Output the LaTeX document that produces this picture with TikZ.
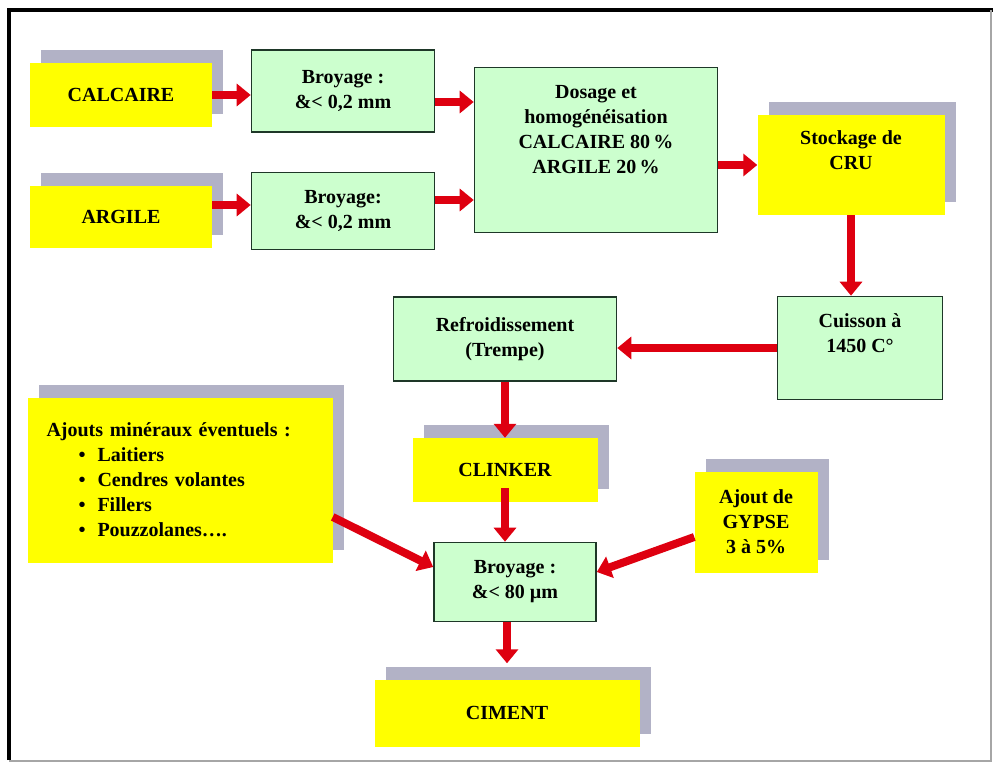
\documentclass[tikz,border=0pt]{standalone}
\usepackage{fontspec}
\setmainfont{Liberation Serif}
\usetikzlibrary{arrows.meta,shadows}

\definecolor{jaune}{RGB}{255,255,0}
\definecolor{vertclair}{RGB}{204,255,206}
\definecolor{bordvert}{RGB}{30,55,40}
\definecolor{ombregris}{RGB}{178,178,198}
\definecolor{rouge}{RGB}{222,0,16}

\begin{document}
\begin{tikzpicture}[x=1pt,y=-1pt]
          \tikzset{every node/.style={font=\fontsize{20}{25}\selectfont\bfseries, align=center},
                   produit/.style={fill=jaune, draw=none,
                        copy shadow={shadow xshift=11pt, shadow yshift=13pt, fill=ombregris, draw=none}},
                   etape/.style={fill=vertclair, draw=bordvert, line width=1.6pt},
                   fleche/.style={draw=rouge, line width=8pt, -{Triangle[width=22pt,length=14pt]}}}
          \useasboundingbox (0,0) rectangle (993,762);
          % cadre
          \draw[line width=4pt] (9,760) -- (9,10) -- (993,10);
          \draw[gray!70, line width=2pt] (9,761) -- (991,761) -- (991,10);

          % matieres premieres
          \node[produit, minimum width=182, minimum height=64] (calcaire) at (121,95) {CALCAIRE};
          \node[produit, minimum width=182, minimum height=61] (argile) at (121,217) {ARGILE};
          \node[etape, minimum width=183, minimum height=82] (broyage1) at (343,91) {Broyage :\\ \&< 0,2 mm};
          \node[etape, minimum width=183, minimum height=77] (broyage2) at (343,211) {Broyage:\\ \&< 0,2 mm};
          \node[etape, minimum width=243, minimum height=165] (dosage) at (596,150) {};
          \node (dosage-t) at (596,130) {Dosage et\\ homogénéisation\\ CALCAIRE 80\,\%\\ ARGILE 20\,\%};
          \node[produit, minimum width=187, minimum height=100] (stockage) at (851,165) {};
          \node (stockage-t) at (851,150) {Stockage de\\ CRU};

          % cuisson
          \node[etape, minimum width=165, minimum height=103] (cuisson) at (860,348) {};
          \node (cuisson-t) at (860,333) {Cuisson à\\ 1450 C°};
          \node[etape, minimum width=223, minimum height=84] (refroid) at (505,339) {Refroidissement\\ (Trempe)};
          \node[produit, minimum width=185, minimum height=64] (clinker) at (505,470) {CLINKER};

          % ciment
          \node[produit, minimum width=305, minimum height=165, text width=267, inner xsep=19pt, align=left] (ajouts) at (180,480)
               {Ajouts minéraux éventuels :\\
                \hspace*{32pt}\textbullet\hspace{12pt}Laitiers\\
                \hspace*{32pt}\textbullet\hspace{12pt}Cendres volantes\\
                \hspace*{32pt}\textbullet\hspace{12pt}Fillers\\
                \hspace*{32pt}\textbullet\hspace{12pt}Pouzzolanes….};
          \node[produit, minimum width=123, minimum height=101] (gypse) at (756,522) {Ajout de\\ GYPSE\\ 3 à 5\%};
          \node[etape, minimum width=162, minimum height=79] (broyage3) at (515,582) {Broyage :\\ \&< 80 µm};
          \node[produit, minimum width=265, minimum height=67] (ciment) at (507,713) {CIMENT};

          % fleches
          \draw[fleche] (calcaire.east) -- (calcaire.east -| broyage1.west);
          \draw[fleche] ([yshift=12pt]argile.east) -- ([yshift=12pt]argile.east -| broyage2.west);
          \draw[fleche] ([yshift=-11pt]broyage1.east) -- ([yshift=-11pt]broyage1.east -| dosage.west);
          \draw[fleche] ([yshift=11pt]broyage2.east) -- ([yshift=11pt]broyage2.east -| dosage.west);
          \draw[fleche] (stockage.west -| dosage.east) -- (stockage.west);
          \draw[fleche] (stockage.south) -- (stockage.south |- cuisson.north);
          \draw[fleche] (cuisson.west) -- (cuisson.west -| refroid.east);
          \draw[fleche] (refroid.south) -- (clinker.north);
          \draw[fleche] ([yshift=14pt]clinker.south) -- (clinker.south |- broyage3.north);
          \draw[fleche] ([yshift=-37pt]ajouts.east) -- ([yshift=15pt]broyage3.west);
          \draw[fleche] ([yshift=-15pt]gypse.west) -- ([yshift=10pt]broyage3.east);
          \draw[fleche] (broyage3.south -| ciment.north) -- ([yshift=16pt]ciment.north);
        \end{tikzpicture}
\end{document}
